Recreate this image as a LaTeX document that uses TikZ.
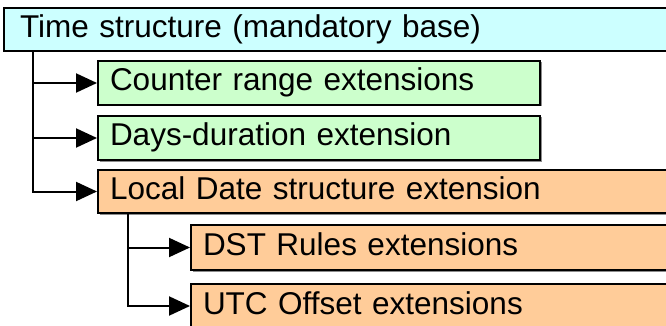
\documentclass[tikz,border=0pt]{standalone}
\usepackage{fontspec}
\setmainfont{Liberation Sans}
\usetikzlibrary{arrows.meta,shadows}
\definecolor{cyanbox}{HTML}{CCFFFF}
\definecolor{greenbox}{HTML}{CCFFCC}
\definecolor{orangebox}{HTML}{FFCC99}
\begin{document}
\begin{tikzpicture}[x=1pt,y=-1pt,
  box/.style={draw=black, line width=2pt, anchor=north west,
    font=\fontsize{31.5}{36}\selectfont, inner xsep=12pt, inner ysep=0pt,
    align=left, text height=23pt, text depth=7pt,
    drop shadow={shadow xshift=1.5pt,shadow yshift=-1.5pt,fill=black!45,opacity=1}},
  conn/.style={line width=2pt, -{Triangle[length=21pt,width=19pt]}}]
\useasboundingbox (0,0) rectangle (666,326);
\node[box, fill=cyanbox, minimum height=43pt, inner xsep=16pt, text width=668pt] (top) at (3,7) {Time structure (mandatory base)};
\node[box, fill=greenbox, minimum height=44pt, text width=418pt] (g1) at (97,60) {Counter range extensions};
\node[box, fill=greenbox, minimum height=44pt, text width=418pt] (g2) at (97,115) {Days-duration extension};
\node[box, fill=orangebox, minimum height=43pt, text width=576pt] (o1) at (97,169) {Local Date structure extension};
\node[box, fill=orangebox, minimum height=45pt, text width=476pt] (dst) at (190,224) {DST Rules extensions};
\node[box, fill=orangebox, minimum height=44pt, text width=476pt] (utc) at (190,283) {UTC Offset extensions};
\coordinate (t1) at (33,0);
\coordinate (t2) at (128,0);
\draw[conn] (top.south -| t1) |- (o1.west);
\draw[conn] (t1 |- g1.west) -- (g1.west);
\draw[conn] (t1 |- g2.west) -- (g2.west);
\draw[conn] (o1.south -| t2) |- (utc.west);
\draw[conn] (t2 |- dst.west) -- (dst.west);
\end{tikzpicture}
\end{document}
